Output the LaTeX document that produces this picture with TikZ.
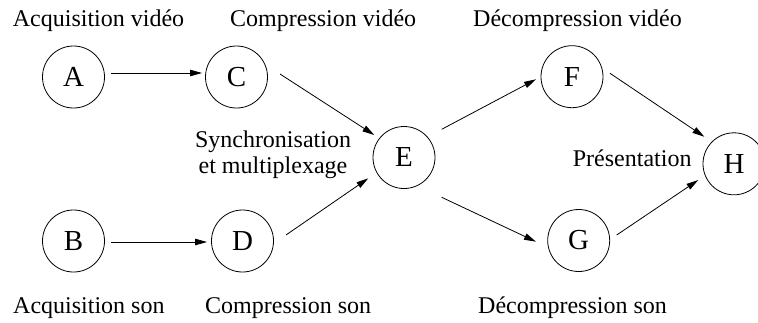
\documentclass[tikz,border=0pt]{standalone}
\usepackage{fontspec}
\setmainfont{Liberation Serif}
\usetikzlibrary{calc,arrows.meta}
\begin{document}
\begin{tikzpicture}[x=1pt,y=-1pt,
  etat/.style={circle,draw,line width=0.8pt,minimum size=62pt,inner sep=0pt,
    font=\fontsize{29}{29}\selectfont},
  legende/.style={font=\fontsize{24}{25.7}\selectfont,inner sep=0pt,anchor=base west},
  fleche/.style={line width=0.8pt,-{Triangle[length=12pt,width=6.5pt]}}]
\useasboundingbox (0,0) rectangle (758,322);

% processing stages
\node[etat] (A) at (73.5,77)    {A};
\node[etat] (B) at (73.5,241)   {B};
\node[etat] (C) at (236.5,77)   {C};
\node[etat] (D) at (242.5,241)  {D};
\node[etat] (E) at (404,157.5)  {E};
\node[etat] (F) at (572,76.7)   {F};
\node[etat] (G) at (578.7,240.5){G};
\node[etat] (H) at (734,163.8)  {H};

% stage captions
\node[legende] (lacqv) at (12.7,26)   {Acquisition vidéo};
\node[legende] (lcompv) at (230,26)   {Compression vidéo};
\node[legende] (ldecv) at (473,26)    {Décompression vidéo};
\node[legende] (lacqs) at (13,313.3)  {Acquisition son};
\node[legende] (lcomps) at (205,313.3){Compression son};
\node[legende] (ldecs) at (478,313.3) {Décompression son};
\node[legende] (lpres) at (572.7,166.7) {Présentation};
\node[legende,align=center,anchor=base]
  (lsync) at (273,173) {Synchronisation\\et multiplexage};

% data flow
\draw[fleche] ($(A)+(37.5,-4)$)   -- ($(C)+(-34.5,-4)$);
\draw[fleche] ($(B)+(37.5,1)$)    -- ($(D)+(-35.5,1)$);
\draw[fleche] ($(C)+(43.5,-3)$)   -- ($(E)+(-29.7,-22.5)$);
\draw[fleche] ($(D)+(43.5,-6)$)   -- ($(E)+(-35.7,20.8)$);
\draw[fleche] ($(E)+(37.7,-28.2)$) -- ($(F)+(-36,2.6)$);
\draw[fleche] ($(E)+(37.7,39.8)$) -- ($(G)+(-42.7,1.2)$);
\draw[fleche] ($(F)+(38,-3.4)$)   -- ($(H)+(-29.7,-27.1)$);
\draw[fleche] ($(G)+(38,-5.5)$)   -- ($(H)+(-35.7,16.2)$);
\end{tikzpicture}
\end{document}
